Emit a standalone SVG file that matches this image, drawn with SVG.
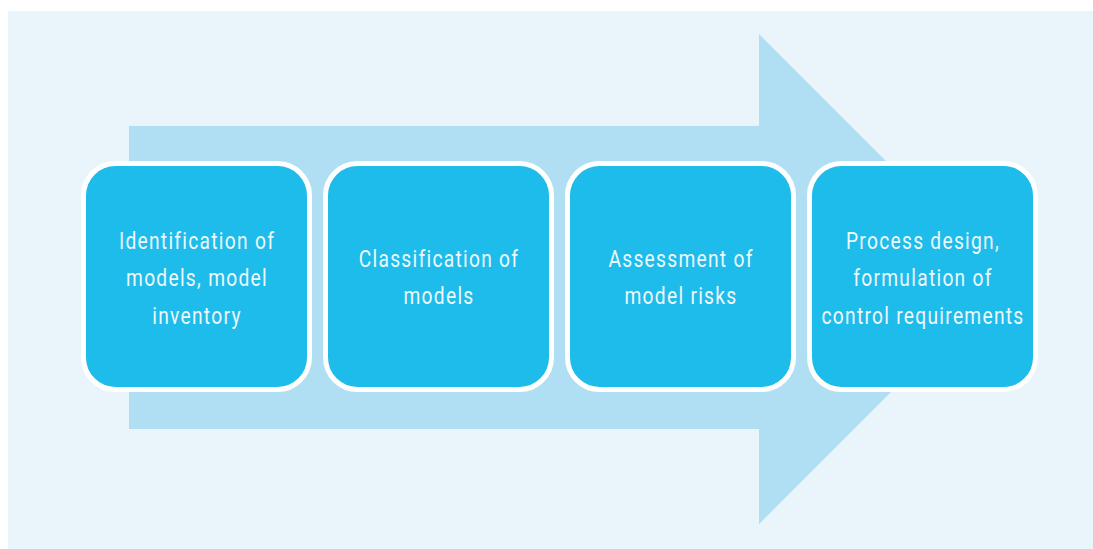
<svg xmlns="http://www.w3.org/2000/svg" width="1093" height="549" viewBox="0 0 1093 549">
<style>
.box{fill:#1dbcea;stroke:#ffffff;stroke-width:5}
.lbl{font-family:Roboto,"Liberation Sans",sans-serif;font-size:24px;fill:#eef8fd;text-anchor:middle;letter-spacing:1.6px}
</style>
<rect x="0" y="0" width="1093" height="549" fill="#ffffff"/>
<rect x="8" y="11" width="1085" height="538" fill="#eaf5fb"/>
<g id="connectors">
<polygon points="129,126 759,126 759,34 1004,279 759,524 759,429 129,429" fill="#b0dff4"/>
</g>
<g id="node1">
<rect class="box" x="83.5" y="163.5" width="226" height="226" rx="32"/>
<g transform="translate(197,0) scale(0.8,1)">
<text class="lbl" x="0" y="249">Identification of</text>
<text class="lbl" x="0" y="286.5">models, model</text>
<text class="lbl" x="0" y="324">inventory</text>
</g>
</g>
<g id="node2">
<rect class="box" x="325.5" y="163.5" width="226" height="226" rx="32"/>
<g transform="translate(439,0) scale(0.8,1)">
<text class="lbl" x="0" y="267">Classification of</text>
<text class="lbl" x="0" y="304.5">models</text>
</g>
</g>
<g id="node3">
<rect class="box" x="567.5" y="163.5" width="226" height="226" rx="32"/>
<g transform="translate(681,0) scale(0.8,1)">
<text class="lbl" x="0" y="267">Assessment of</text>
<text class="lbl" x="0" y="304.5">model risks</text>
</g>
</g>
<g id="node4">
<rect class="box" x="809.5" y="163.5" width="226" height="226" rx="32"/>
<g transform="translate(923,0) scale(0.8,1)">
<text class="lbl" x="0" y="249">Process design,</text>
<text class="lbl" x="0" y="286.5">formulation of</text>
<text class="lbl" x="0" y="324">control requirements</text>
</g>
</g>
</svg>
